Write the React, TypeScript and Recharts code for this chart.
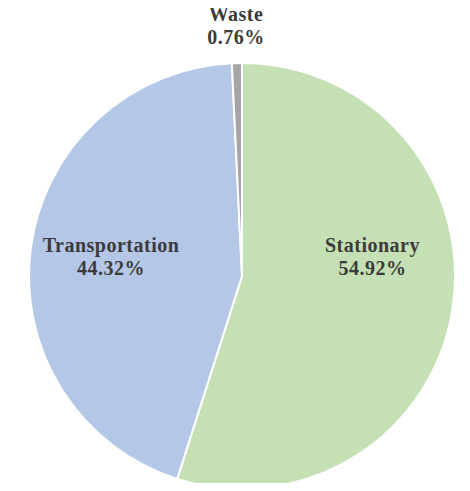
import React from "react";
import { PieChart, Pie, Cell } from "recharts";

const categories = ["Stationary", "Transportation", "Waste"];
const shares = [54.92, 44.32, 0.76];
const colors = ["#C5E0B4", "#B4C7E7", "#A5A5A5"];

const data = categories.map((name, i) => ({ name, value: shares[i] }));

const RADIAN = Math.PI / 180;

// big slices: label inside, on the horizontal line just above centre; tiny slices outside
function renderLabel(props: any) {
  const { cx, cy, midAngle, outerRadius, index } = props;
  const small = shares[index] < 5;
  const r = small ? outerRadius + 38 : outerRadius * 0.62;
  const x = cx + r * Math.cos(-midAngle * RADIAN);
  const y = small ? cy + r * Math.sin(-midAngle * RADIAN) : cy - 20;
  return (
    <text
      x={x}
      y={y}
      textAnchor="middle"
      fill="#3b3b3b"
      fontFamily="'Liberation Serif', 'Times New Roman', serif"
      fontWeight="bold"
      fontSize={20}
      letterSpacing={0.5}
    >
      <tspan x={x} dy={-4}>{categories[index]}</tspan>
      <tspan x={x} dy={23}>{shares[index].toFixed(2)}%</tspan>
    </text>
  );
}

export default function App() {
  return (
    <div style={{ margin: -8, background: "#fff" }}>
      <PieChart width={470} height={491} margin={{ top: 0, right: 0, bottom: 0, left: 0 }}>
        <Pie
          data={data}
          dataKey="value"
          nameKey="name"
          cx={242}
          cy={276}
          outerRadius={213}
          startAngle={90}
          endAngle={-270}
          stroke="#ffffff"
          strokeWidth={2}
          label={renderLabel}
          labelLine={false}
          isAnimationActive={false}
        >
          {data.map((d, i) => (
            <Cell key={d.name} fill={colors[i]} />
          ))}
        </Pie>
      </PieChart>
    </div>
  );
}
